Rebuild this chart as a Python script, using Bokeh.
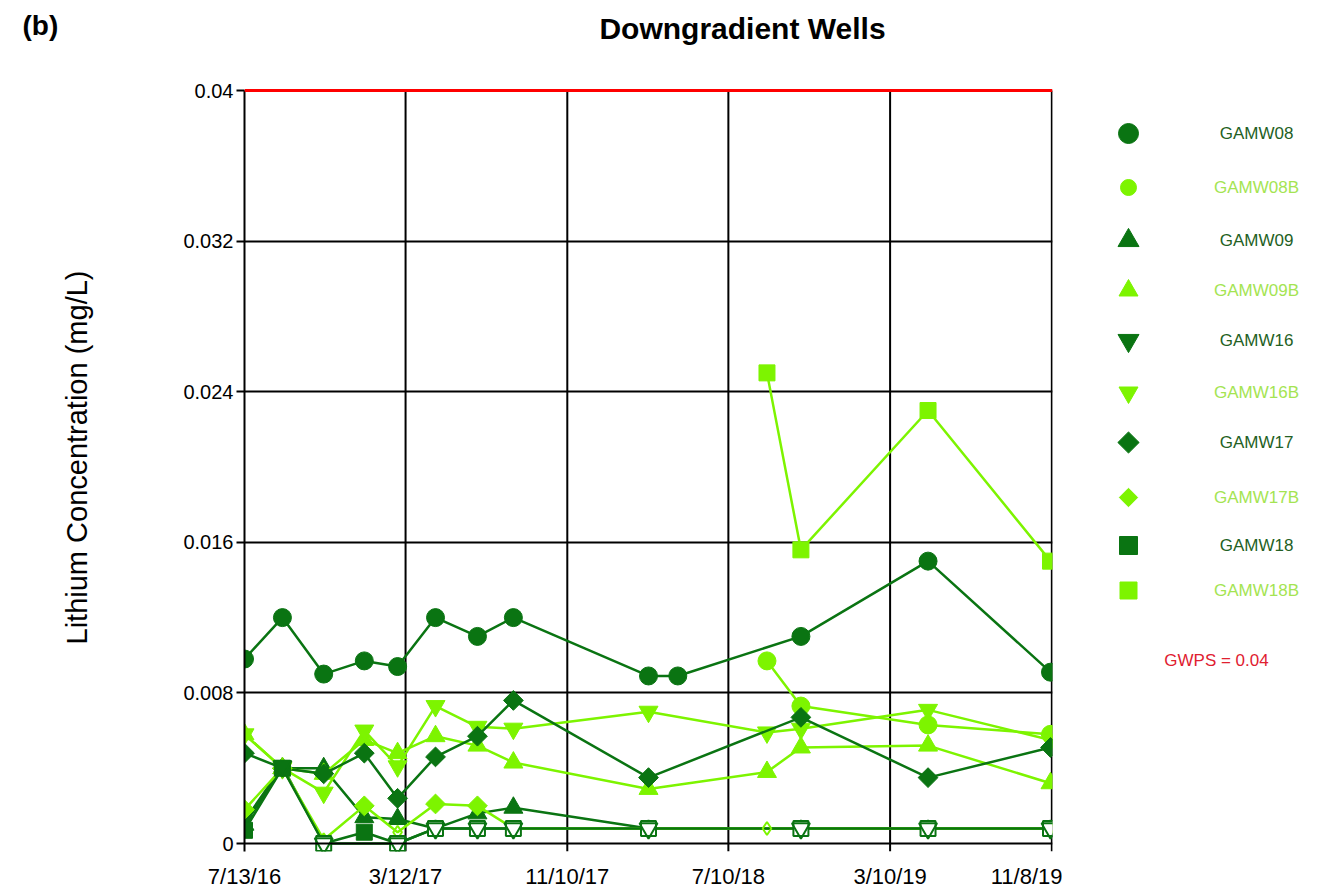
import math
import pandas as pd
from bokeh.plotting import figure
from bokeh.models import Range1d, FixedTicker, Span, Label
from bokeh.layouts import row
from bokeh.embed import file_html
from bokeh.resources import INLINE
from bokeh.core.properties import value

# ---------------- data ----------------
dates = ["2016-07-13", "2016-09-08", "2016-11-09", "2017-01-09", "2017-02-28",
         "2017-04-26", "2017-06-28", "2017-08-21", "2018-03-12", "2018-04-25",
         "2018-09-06", "2018-10-27", "2019-05-06", "2019-11-06"]

tick_dates = ["2016-07-13", "2017-03-12", "2017-11-10", "2018-07-10", "2019-03-10", "2019-11-08"]
tick_labels = ["7/13/16", "3/12/17", "11/10/17", "7/10/18", "3/10/19", "11/8/19"]
y_ticks = [0, 0.008, 0.016, 0.024, 0.032, 0.04]
y_tick_labels = ["0", "0.008", "0.016", "0.024", "0.032", "0.04"]
gwps = 0.04

wells = ["GAMW08", "GAMW08B", "GAMW09", "GAMW09B", "GAMW16",
         "GAMW16B", "GAMW17", "GAMW17B", "GAMW18", "GAMW18B"]

N = None
gamw08 = [0.0098, 0.0120, 0.0090, 0.0097, 0.0094, 0.0120, 0.0110, 0.0120, 0.0089, 0.0089, N, 0.0110, 0.0150, 0.0091]
gamw08b = [N, N, N, N, N, N, N, N, N, N, 0.0097, 0.0073, 0.0063, 0.0058]
gamw09 = [0.0010, 0.0040, 0.0040, 0.0014, 0.0013, 0.0008, 0.0016, 0.0019, 0.0008, N, N, 0.0008, 0.0008, 0.0008]
gamw09b = [0.0058, 0.0040, 0.0037, 0.0055, 0.0048, 0.0057, 0.0052, 0.0043, 0.0029, N, 0.0038, 0.0051, 0.0052, 0.0032]
gamw16 = [0.0012, 0.0041, 0.0000, N, 0.0000, 0.0008, 0.0008, 0.0008, 0.0008, N, N, 0.0008, 0.0008, 0.0008]
gamw16b = [0.0058, 0.0040, 0.0027, 0.0060, 0.0041, 0.0073, 0.0062, 0.0061, 0.0070, N, 0.0059, 0.0061, 0.0071, 0.0055]
gamw17 = [0.0048, 0.0040, 0.0037, 0.0048, 0.0024, 0.0046, 0.0057, 0.0076, 0.0035, N, N, 0.0067, 0.0035, 0.0051]
gamw17b = [0.0018, 0.0040, 0.0002, 0.0020, 0.0006, 0.0021, 0.0020, 0.0008, 0.0008, N, 0.0008, 0.0008, 0.0008, 0.0008]
gamw18 = [0.0007, 0.0040, 0.0000, 0.0006, 0.0000, 0.0008, 0.0008, 0.0008, 0.0008, N, N, 0.0008, 0.0008, 0.0008]
gamw18b = [N, N, N, N, N, N, N, N, N, N, 0.0250, 0.0156, 0.0230, 0.0150]

# 1 = non-detect (open symbol)
gamw08_nd = [0] * 14
gamw08b_nd = [0] * 14
gamw09_nd = [0, 0, 0, 0, 0, 1, 0, 0, 1, 0, 0, 1, 1, 1]
gamw09b_nd = [0] * 14
gamw16_nd = [0, 1, 1, 0, 1, 1, 1, 1, 1, 0, 0, 1, 1, 1]
gamw16b_nd = [0] * 14
gamw17_nd = [0] * 14
gamw17b_nd = [0, 0, 1, 0, 1, 0, 0, 1, 1, 0, 1, 1, 1, 1]
gamw18_nd = [0, 0, 1, 0, 1, 1, 1, 1, 1, 0, 0, 1, 1, 1]
gamw18b_nd = [0] * 14

series = [gamw08, gamw08b, gamw09, gamw09b, gamw16, gamw16b, gamw17, gamw17b, gamw18, gamw18b]
nds = [gamw08_nd, gamw08b_nd, gamw09_nd, gamw09b_nd, gamw16_nd, gamw16b_nd, gamw17_nd, gamw17b_nd, gamw18_nd, gamw18b_nd]

DARK = "#0a7412"
LIGHT = "#7df400"
colors = [DARK, LIGHT] * 5
markers = ["circle", "circle", "triangle", "triangle", "inverted_triangle",
           "inverted_triangle", "square", "square", "square", "square"]
angles = [0, 0, 0, 0, 0, 0, 0.7854, 0.7854, 0, 0]
sizes = [18, 18, 19, 19, 19, 19, 14, 14, 16, 16]
text_colors = ["#245f24", "#a4e452"] * 5

FONT = "Liberation Sans"


def ms(d):
    return pd.Timestamp(d).value // 10**6


x_ms = [ms(d) for d in dates]
tick_ms = [ms(d) for d in tick_dates]
DAY = 86400000

# layout constants (pixels)
BW = 110                   # width of left text panel
FL, FW = 244, 808          # frame left (page), frame width
FH = 851                   # frame height (page 0 .. 851)
PX0 = 843                  # pixel row of y = 0
dpp = gwps / 753.0         # data units per pixel (y)
x0, x1 = tick_ms[0], tick_ms[-1] + DAY
mpp = (x1 - x0) / FW       # ms per pixel (x)
BOT = 40

# ---------------- left text panel ----------------
bfig = figure(output_backend="svg", toolbar_location=None,
              frame_width=BW, frame_height=FH,
              x_range=Range1d(0, BW), y_range=Range1d(FH, 0),
              min_border_left=0, min_border_right=0, min_border_top=0, min_border_bottom=BOT)
bfig.axis.visible = False
bfig.grid.visible = False
bfig.outline_line_color = None
bfig.text([22], [9], text=["(b)"], text_font=value(FONT), text_font_size="28px",
          text_font_style="bold", text_color="black", text_baseline="top", text_align="left")
bfig.text([76], [457], text=["Lithium Concentration (mg/L)"], angle=math.pi / 2,
          text_font=value(FONT), text_font_size="29px", text_color="black",
          text_baseline="middle", text_align="center")

# ---------------- main figure ----------------
p = figure(x_axis_type="datetime", output_backend="svg", toolbar_location=None,
           frame_width=FW, frame_height=FH,
           min_border_left=FL - BW, min_border_right=10, min_border_top=0, min_border_bottom=BOT,
           x_range=Range1d(x0, x1),
           y_range=Range1d(-(FH - PX0) * dpp, PX0 * dpp))
p.outline_line_color = None
p.background_fill_color = "white"
p.border_fill_color = "white"

p.xaxis.ticker = FixedTicker(ticks=tick_ms)
p.xaxis.major_label_overrides = {t: l for t, l in zip(tick_ms, tick_labels)}
p.xaxis.axis_line_color = None
p.xaxis.major_tick_line_color = None
p.xaxis.major_tick_out = 0
p.xaxis.major_label_standoff = 12
p.xaxis.major_label_text_font_size = "22px"

p.yaxis.ticker = FixedTicker(ticks=y_ticks)
p.yaxis.major_label_overrides = {t: l for t, l in zip(y_ticks, y_tick_labels)}
p.yaxis.bounds = (-(FH - PX0) * dpp, gwps)
p.yaxis.axis_line_color = "black"
p.yaxis.axis_line_width = 2
p.yaxis.major_tick_line_color = "black"
p.yaxis.major_tick_line_width = 2
p.yaxis.major_tick_out = 8
p.yaxis.major_tick_in = 0
p.yaxis.major_label_standoff = 3
p.yaxis.major_label_text_font_size = "20px"
for ax in (p.xaxis, p.yaxis):
    ax.minor_tick_line_color = None
    ax.major_label_text_font = FONT
    ax.major_label_text_color = "black"

p.xgrid.visible = False
p.ygrid.ticker = FixedTicker(ticks=y_ticks[1:-1])
p.ygrid.grid_line_color = "black"
p.ygrid.grid_line_width = 2
p.ygrid.grid_line_alpha = 1

# vertical grid lines (they run down past the zero line as tick marks)
p.segment(x0=tick_ms[1:], y0=[-(FH - PX0) * dpp] * 5, x1=tick_ms[1:], y1=[gwps] * 5,
          line_color="black", line_width=2)
# zero line (x axis) and GWPS line
p.add_layout(Span(location=0, dimension="width", line_color="black", line_width=2))
p.add_layout(Span(location=gwps, dimension="width", line_color="#ff0000", line_width=3))

hollow = []
for vals, nd, c, m, a, s in zip(series, nds, colors, markers, angles, sizes):
    xs = [x for x, v in zip(x_ms, vals) if v is not None]
    ys = [v for v in vals if v is not None]
    flags = [f for f, v in zip(nd, vals) if v is not None]
    p.line(xs, ys, line_color=c, line_width=2.5)
    xd = [x for x, f in zip(xs, flags) if f == 0]
    yd = [y for y, f in zip(ys, flags) if f == 0]
    xn = [x for x, f in zip(xs, flags) if f == 1]
    yn = [y for y, f in zip(ys, flags) if f == 1]
    if xd:
        p.scatter(xd, yd, marker=m, angle=a, size=s, fill_color=c, line_color=c)
    if xn:
        hollow.append((xn, yn, m, a, s, c))


# open (non-detect) symbols on top: diamonds / up-triangles, then squares, then down-triangles
def rank(h):
    if h[3] != 0 or h[2] == "triangle":
        return 0
    return 1 if h[2] == "square" else 2


hollow.sort(key=rank)
for xn, yn, m, a, s, c in hollow:
    if a != 0:
        p.scatter(xn, yn, marker="diamond", size=13, fill_color=None, line_color=c, line_width=2)
    elif m == "triangle":
        p.scatter(xn, yn, marker=m, size=14, fill_color=None, line_color=c, line_width=2)
    else:
        fill = "white" if m == "square" else None
        p.scatter(xn, yn, marker=m, size=s - 1, fill_color=fill, line_color=c, line_width=2)

p.add_layout(Label(x=x0 + (742 - FL) * mpp, y=(PX0 - 28) * dpp, text="Downgradient Wells",
                   text_font=FONT, text_font_size="30px", text_font_style="bold",
                   text_color="black", text_baseline="middle", text_align="center"))

# ---------------- legend panel ----------------
LW = 253
PW = FL + FW + 10
leg = figure(output_backend="svg", toolbar_location=None,
             frame_width=LW, frame_height=FH,
             x_range=Range1d(PW, PW + LW), y_range=Range1d(FH, 0),
             min_border_left=0, min_border_right=0,
             min_border_top=0, min_border_bottom=BOT)
leg.axis.visible = False
leg.grid.visible = False
leg.outline_line_color = None
leg_y = [133, 187, 240, 290, 340, 392, 442, 497, 545, 590]
leg.scatter([1128] * len(wells), leg_y, marker=markers, angle=angles,
            size=[20, 16, 21, 19, 21, 19, 15, 13, 18, 17],
            fill_color=colors, line_color=colors)
leg.text([1256] * len(wells), leg_y, text=wells, text_color=text_colors,
         text_font=value(FONT), text_font_size="17px", text_align="center", text_baseline="middle")
leg.text([1216], [660], text=["GWPS = 0.04"], text_color="#e02030",
         text_font=value(FONT), text_font_size="17px", text_align="center", text_baseline="middle")

layout = row(bfig, p, leg)
open("out.html", "w").write(file_html(layout, INLINE))
